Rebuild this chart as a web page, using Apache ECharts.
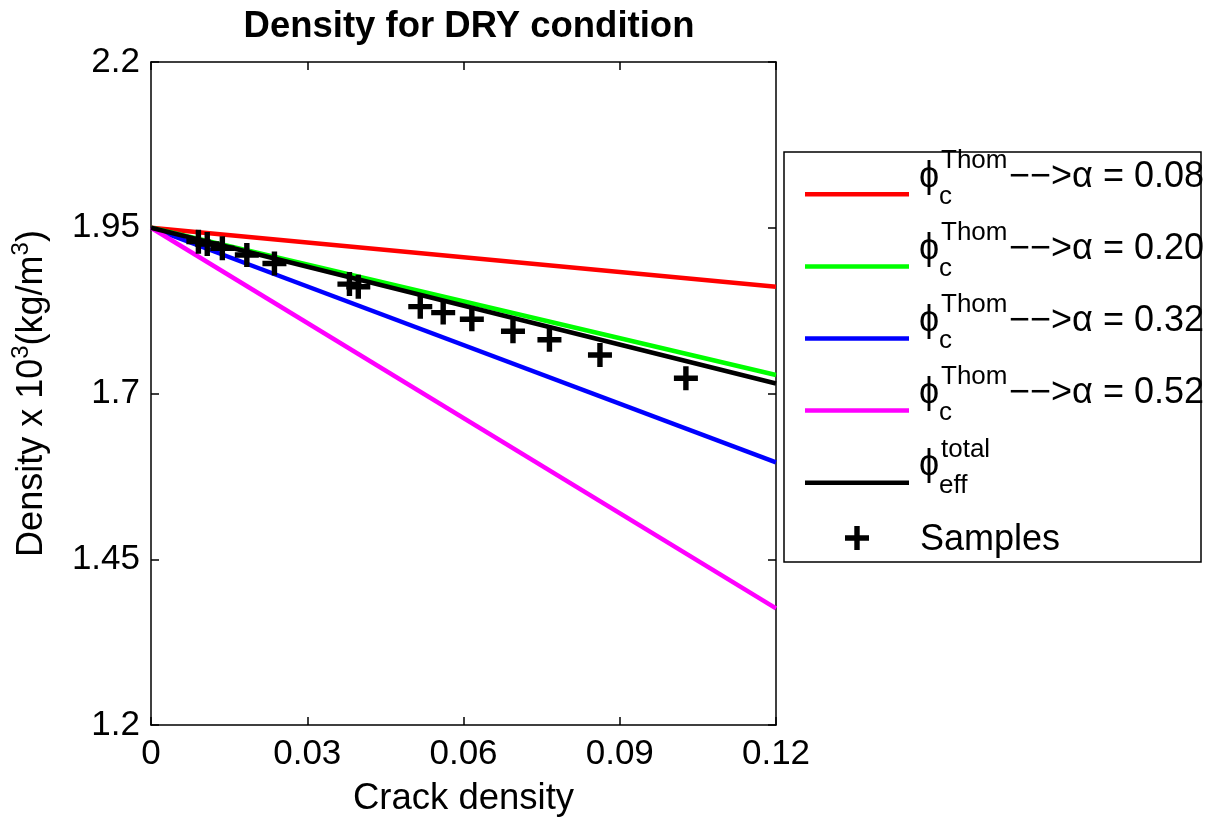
<!DOCTYPE html>
<html><head><meta charset="utf-8">
<script src="https://cdn.jsdelivr.net/npm/echarts@6/dist/echarts.min.js"></script>
<style>html,body{margin:0;padding:0;background:#fff}#c{width:1226px;height:818px}</style>
</head><body><div id="c"></div>
<script>
// ---- data ----
const crackDensity = [0, 0.12];
const alpha008 = [1.95, 1.861];
const alpha020 = [1.95, 1.728];
const alpha032 = [1.95, 1.596];
const alpha052 = [1.95, 1.376];
const effTotal = [1.95, 1.715];
const sampleX = [0.0091, 0.0108, 0.0137, 0.0184, 0.0237, 0.0381, 0.0398, 0.0517, 0.0561, 0.0616, 0.0695, 0.0765, 0.0862, 0.1027];
const sampleY = [1.929, 1.9255, 1.919, 1.909, 1.896, 1.865, 1.861, 1.831, 1.822, 1.812, 1.794, 1.781, 1.758, 1.723];
const xTicks = [0, 0.03, 0.06, 0.09, 0.12];
const xTickLabels = ['0', '0.03', '0.06', '0.09', '0.12'];
const yTicks = [1.2, 1.45, 1.7, 1.95, 2.2];
const yTickLabels = ['1.2', '1.45', '1.7', '1.95', '2.2'];
const legendAlphas = ['0.08', '0.20', '0.32', '0.52'];

const FONT = 'Liberation Sans, Arial, Helvetica, sans-serif';
const colors = ['#ff0000', '#00ff00', '#0000ff', '#ff00ff', '#000000'];
const lineSets = [alpha008, alpha020, alpha032, alpha052, effTotal];
const seriesNames = legendAlphas.map(a => 'phi_c^Thom -> alpha = ' + a).concat(['phi_eff^total']);
const plusPath = 'M9.3,0H14.7V9.3H24V14.7H14.7V24H9.3V14.7H0V9.3H9.3Z';

function lbl(ticks, labels) {
  return v => { for (let i = 0; i < ticks.length; i++) if (Math.abs(v - ticks[i]) < 1e-9) return labels[i]; return ''; };
}

const series = lineSets.map((ys, i) => ({
  type: 'line', name: seriesNames[i], showSymbol: false, symbol: 'none',
  data: crackDensity.map((x, j) => [x, ys[j]]),
  lineStyle: { color: colors[i], width: 4.5 }, itemStyle: { color: colors[i] },
  animation: false, z: 2 + i
}));
series.push({
  type: 'scatter', name: 'Samples', symbol: 'path://' + plusPath, symbolSize: 24,
  data: sampleX.map((x, j) => [x, sampleY[j]]),
  itemStyle: { color: '#000', opacity: 1 }, emphasis: { disabled: true }, animation: false, z: 10
});

// ---- legend (drawn with graphic) ----
const graphic = [];
const LX = 784, LY = 152, LW = 417, LH = 410, PITCH = 72.1;
graphic.push({ type: 'rect', shape: { x: LX, y: LY, width: LW, height: LH }, style: { fill: '#fff', stroke: '#000', lineWidth: 1.5 }, z: 100 });
for (let i = 0; i < 5; i++) {
  const dy = PITCH * i;
  graphic.push({ type: 'line', shape: { x1: 805, y1: 194.3 + dy, x2: 909, y2: 194.3 + dy }, style: { stroke: colors[i], lineWidth: 4.5 }, z: 101 });
  graphic.push({ type: 'text', x: 919, y: 177 + dy, style: { text: 'ϕ', font: '36px ' + FONT, fill: '#000', verticalAlign: 'middle' }, z: 101 });
  graphic.push({ type: 'text', x: 941, y: 161 + dy, style: { text: i < 4 ? 'Thom' : 'total', font: '26px ' + FONT, fill: '#000', verticalAlign: 'middle' }, z: 101 });
  graphic.push({ type: 'text', x: 939, y: 197 + dy, style: { text: i < 4 ? 'c' : 'eff', font: '26px ' + FONT, fill: '#000', verticalAlign: 'middle' }, z: 101 });
  if (i < 4) graphic.push({ type: 'text', x: 1009, y: 177 + dy, style: { text: '−−>α = ' + legendAlphas[i], font: '36px ' + FONT, fill: '#000', verticalAlign: 'middle' }, z: 101 });
}
const cx = 857, cy = 538, h = 12, a = 2.7;
graphic.push({ type: 'polygon', shape: { points: [
  [cx - a, cy - h], [cx + a, cy - h], [cx + a, cy - a], [cx + h, cy - a], [cx + h, cy + a], [cx + a, cy + a],
  [cx + a, cy + h], [cx - a, cy + h], [cx - a, cy + a], [cx - h, cy + a], [cx - h, cy - a], [cx - a, cy - a]] },
  style: { fill: '#000' }, z: 101 });
graphic.push({ type: 'text', x: 920, y: 540, style: { text: 'Samples', font: '36px ' + FONT, fill: '#000', verticalAlign: 'middle' }, z: 101 });

const axisCommon = {
  axisLine: { show: true, onZero: false, lineStyle: { color: '#000', width: 1.5 } },
  axisTick: { show: true, inside: true, length: 8, lineStyle: { color: '#000', width: 1.5 } },
  splitLine: { show: false }
};

const option = {
  backgroundColor: '#fff',
  animation: false,
  title: { text: 'Density for DRY condition', left: 464, textAlign: 'center', top: 3,
    textStyle: { fontFamily: FONT, fontSize: 36.5, fontWeight: 'bold', color: '#000' } },
  grid: { left: 151, top: 62, width: 625, height: 663, containLabel: false, outerBoundsMode: 'none' },
  xAxis: [
    Object.assign({}, axisCommon, { type: 'value', min: 0, max: 0.12, position: 'bottom',
      axisTick: Object.assign({}, axisCommon.axisTick, { customValues: xTicks }),
      axisLabel: { customValues: xTicks, formatter: lbl(xTicks, xTickLabels), fontFamily: FONT, fontSize: 35, color: '#000', margin: 12 },
      name: 'Crack density', nameLocation: 'middle', nameGap: 55,
      nameTextStyle: { fontFamily: FONT, fontSize: 36.5, color: '#000' } }),
    Object.assign({}, axisCommon, { type: 'value', min: 0, max: 0.12, position: 'top',
      axisTick: Object.assign({}, axisCommon.axisTick, { customValues: xTicks }),
      axisLabel: { show: false } })
  ],
  yAxis: [
    Object.assign({}, axisCommon, { type: 'value', min: 1.2, max: 2.2, position: 'left',
      axisTick: Object.assign({}, axisCommon.axisTick, { customValues: yTicks }),
      axisLabel: { customValues: yTicks, formatter: lbl(yTicks, yTickLabels), fontFamily: FONT, fontSize: 35, color: '#000', margin: 11 },
      name: '{m|Density x 10}{s|3}{m|(kg/m}{s|3}{m|)}', nameLocation: 'middle', nameGap: 96, nameRotate: 90,
      nameTextStyle: { fontFamily: FONT, fontSize: 36, color: '#000',
        rich: { m: { fontFamily: FONT, fontSize: 36, lineHeight: 46, color: '#000' },
                s: { fontFamily: FONT, fontSize: 24, lineHeight: 24, verticalAlign: 'top', color: '#000' } } } }),
    Object.assign({}, axisCommon, { type: 'value', min: 1.2, max: 2.2, position: 'right',
      axisTick: Object.assign({}, axisCommon.axisTick, { customValues: yTicks }),
      axisLabel: { show: false } })
  ],
  graphic: graphic,
  series: series
};

const chart = echarts.init(document.getElementById('c'), null, { renderer: 'canvas' });
chart.setOption(option);
</script>
</body></html>
